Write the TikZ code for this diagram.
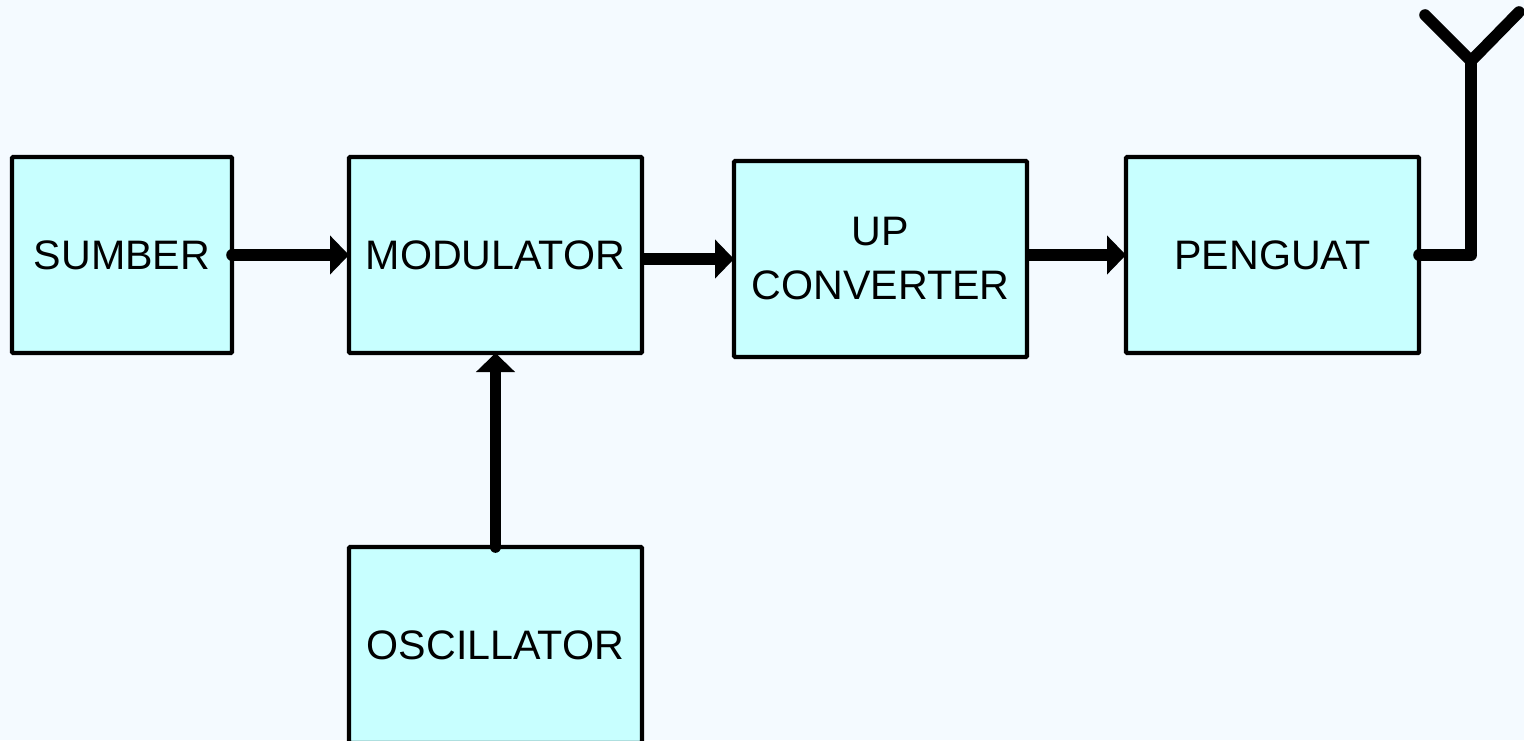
\documentclass[tikz,border=0pt]{standalone}
\usepackage{fontspec}
\setmainfont{Liberation Sans}
\usetikzlibrary{arrows.meta,calc}
\definecolor{pagebg}{HTML}{F4FAFF}
\definecolor{boxfill}{HTML}{C8FFFF}
\tikzset{
  x=0.5pt,y=-0.5pt,
  blockbox/.style={draw=black,fill=boxfill,line width=2.1pt,rounded corners=0.5pt,inner sep=0pt,outer sep=0pt,
    minimum height=98pt,align=center,font=\fontsize{20.6pt}{27pt}\selectfont},
  widebox/.style={blockbox,minimum width=146.5pt},
  link/.style={draw=black,line width=5.8pt,line cap=round,-{Triangle[length=9.5pt,width=19pt]}},
  flatlink/.style={link,line cap=butt},
  aerial/.style={draw=black,line width=5.8pt,line cap=round,line join=round},
}
\begin{document}
\begin{tikzpicture}
\useasboundingbox (0,0) rectangle (1524,740);
\clip (0,0) rectangle (1524,740);
\fill[pagebg] (0,0) rectangle (1524,740);
\node[blockbox,minimum width=110pt] (sumber) at (122,255) {SUMBER};
\node[widebox] (modulator) at (495.5,255) {MODULATOR};
\node[widebox] (upconv) at (880.5,259) {UP\\CONVERTER};
\node[widebox] (penguat) at (1272.5,255) {PENGUAT};
\node[widebox] (osc) at (495.5,645) {OSCILLATOR};
\coordinate (feed) at (1471,255);
\coordinate (fork) at (1471,61);
\coordinate (armL) at (1425,15);
\coordinate (armR) at (1519,12);
\draw[link] (sumber.east) -- (sumber.east -| modulator.west);
\draw[flatlink] (modulator.east |- 0,259) -- (upconv.west);
\draw[flatlink] (upconv.east |- 0,255) -- (penguat.west);
\draw[link] (osc.north) -- (modulator.south);
\draw[aerial] (penguat.east) -- (feed) -- (fork);
\draw[aerial] (armL) -- (fork) -- (armR);
\end{tikzpicture}
\end{document}
